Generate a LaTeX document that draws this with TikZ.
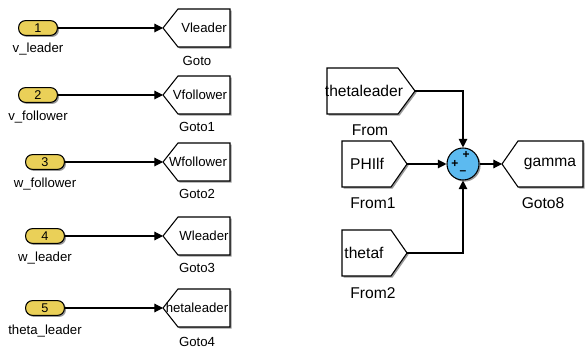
\documentclass[tikz,border=0pt]{standalone}
\usepackage{fontspec}
\setmainfont{Liberation Sans}
\usetikzlibrary{arrows.meta,shadows}

\definecolor{inyellow}{RGB}{234,208,88}
\definecolor{sumblue}{RGB}{92,186,240}

\tikzset{
  blkshadow/.style={drop shadow={shadow xshift=1.2pt, shadow yshift=-1.2pt, fill=black!40, opacity=1}},
  inport/.style={draw, line width=0.8pt, fill=inyellow, rounded corners=5pt, minimum width=29pt,
    minimum height=11pt, inner sep=0pt, font=\fontsize{9.5}{10}\selectfont, blkshadow},
  blk/.style={draw, line width=0.8pt, fill=white, blkshadow},
  smalltxt/.style={font=\fontsize{9.9}{11}\selectfont, inner sep=0pt},
  bigtxt/.style={font=\fontsize{11.7}{13}\selectfont, inner sep=0pt},
  sig/.style={line width=0.85pt, -{Triangle[length=6.5pt,width=6.5pt]}},
  sgn/.style={font=\bfseries\fontsize{9}{9}\selectfont, inner sep=0pt}
}

\begin{document}
\begin{tikzpicture}[x=0.75pt, y=-0.75pt]
  \useasboundingbox (0,0) rectangle (586,349);

  % inports
  \node[inport] (in1) at (38,28) {1};
  \node[smalltxt] (in1lbl) at (38,49) {v\_leader};
  \node[inport] (in2) at (38,95) {2};
  \node[smalltxt] (in2lbl) at (38,117) {v\_follower};
  \node[inport] (in3) at (45,162) {3};
  \node[smalltxt] (in3lbl) at (45,184) {w\_follower};
  \node[inport] (in4) at (45,236) {4};
  \node[smalltxt] (in4lbl) at (45,258) {w\_leader};
  \node[inport] (in5) at (45,308) {5};
  \node[smalltxt] (in5lbl) at (45,331) {theta\_leader};

  % goto blocks on the left
  \draw[blk] (163,28) -- (178,9) -- (230,9) -- (230,47) -- (178,47) -- cycle;
  \coordinate (g1) at (163,28);
  \node[smalltxt] (g1txt) at (204,28) {Vleader};
  \node[smalltxt] (g1lbl) at (197,61) {Goto};

  \draw[blk] (163,95) -- (178,76) -- (230,76) -- (230,114) -- (178,114) -- cycle;
  \coordinate (g2) at (163,95);
  \node[smalltxt] (g2txt) at (200,95) {Vfollower};
  \node[smalltxt] (g2lbl) at (197,127) {Goto1};

  \draw[blk] (163,162) -- (178,143) -- (230,143) -- (230,181) -- (178,181) -- cycle;
  \coordinate (g3) at (163,162);
  \node[smalltxt] (g3txt) at (198,162) {Wfollower};
  \node[smalltxt] (g3lbl) at (197,194) {Goto2};

  \draw[blk] (163,236) -- (178,217) -- (230,217) -- (230,255) -- (178,255) -- cycle;
  \coordinate (g4) at (163,236);
  \node[smalltxt] (g4txt) at (204,236) {Wleader};
  \node[smalltxt] (g4lbl) at (197,268) {Goto3};

  \draw[blk] (163,308) -- (178,289) -- (230,289) -- (230,327) -- (178,327) -- cycle;
  \coordinate (g5) at (163,308);
  \node[smalltxt] (g5txt) at (197,308) {hetaleader};
  \node[smalltxt] (g5lbl) at (197,342) {Goto4};

  \draw[sig] (in1) -- (g1);
  \draw[sig] (in2) -- (g2);
  \draw[sig] (in3) -- (g3);
  \draw[sig] (in4) -- (g4);
  \draw[sig] (in5) -- (g5);

  % from blocks, sum and goto on the right
  \draw[blk] (327,68) -- (398,68) -- (415,91) -- (398,114) -- (327,114) -- cycle;
  \coordinate (f1) at (415,91);
  \node[bigtxt] (f1txt) at (364,91) {thetaleader};
  \node[bigtxt] (f1lbl) at (370,130) {From};

  \draw[blk] (342,141) -- (391,141) -- (407,164) -- (391,187) -- (342,187) -- cycle;
  \coordinate (f2) at (407,164);
  \node[bigtxt] (f2txt) at (367,164) {PHIlf};
  \node[bigtxt] (f2lbl) at (373,203) {From1};

  \draw[blk] (342,230) -- (391,230) -- (407,253) -- (391,276) -- (342,276) -- cycle;
  \coordinate (f3) at (407,253);
  \node[bigtxt] (f3txt) at (364,253) {thetaf};
  \node[bigtxt] (f3lbl) at (373,293) {From2};

  \node[circle, draw, line width=0.8pt, fill=sumblue, minimum size=24pt, inner sep=0pt, blkshadow] (sum) at (463,164) {};
  \node[sgn] (s1) at (466,155) {+};
  \node[sgn] (s2) at (455,164) {+};
  \node[sgn] (s3) at (463,173) {--};

  \draw[blk] (502,164) -- (518,141) -- (583,141) -- (583,187) -- (518,187) -- cycle;
  \coordinate (g8) at (502,164);
  \node[bigtxt] (g8txt) at (550,164) {gamma};
  \node[bigtxt] (g8lbl) at (543,203) {Goto8};

  \draw[sig] (f1) -| (sum);
  \draw[sig] (f2) -- (sum);
  \draw[sig] (f3) -| (sum);
  \draw[sig] (sum) -- (g8);
\end{tikzpicture}
\end{document}
